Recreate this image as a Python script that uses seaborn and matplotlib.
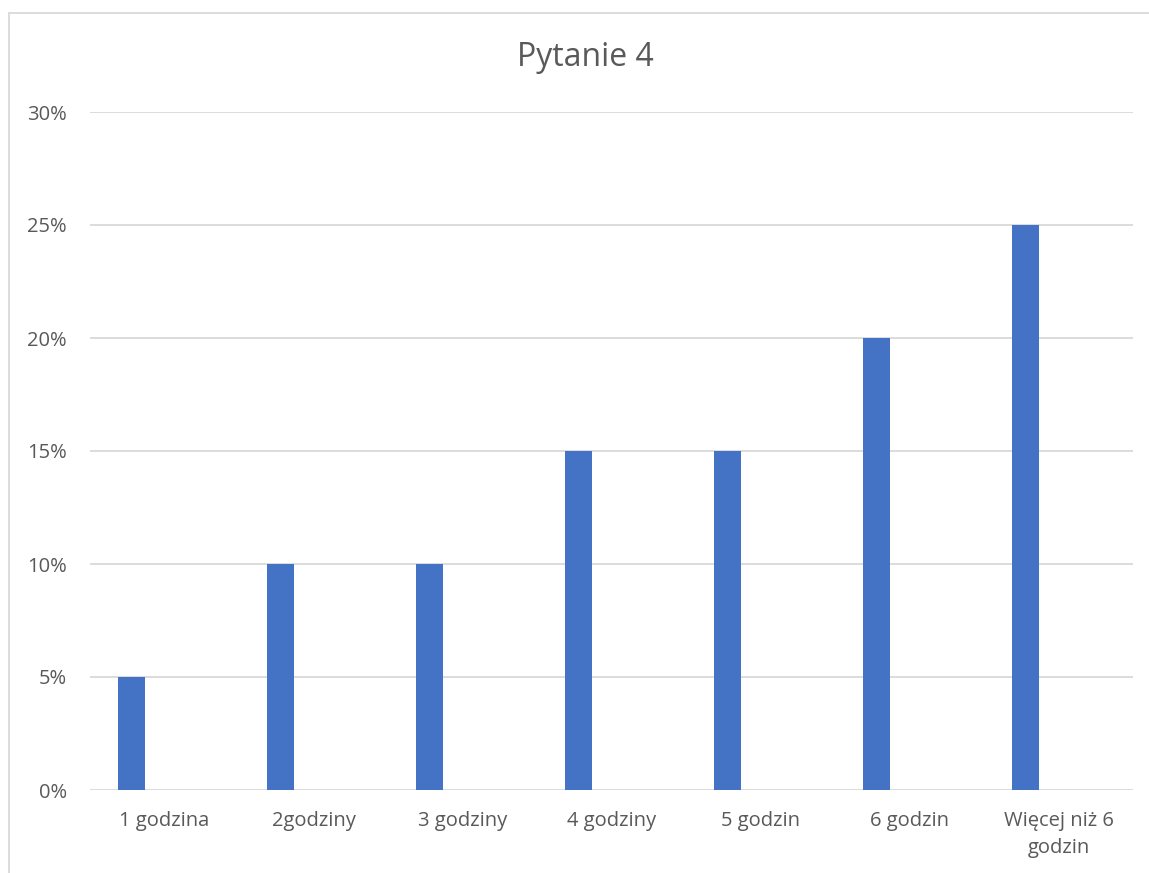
import matplotlib
matplotlib.use("Agg")
import matplotlib.pyplot as plt
import seaborn as sns
import pandas as pd
from matplotlib.patches import Rectangle
from matplotlib.ticker import FuncFormatter

# Dane
kategorie = ['1 godzina', '2godziny', '3 godziny', '4 godziny', '5 godzin', '6 godzin', 'Więcej niż 6\ngodzin']
wartosci = [5, 10, 10, 15, 15, 20, 25]
serie = ['Seria1', 'Seria2', 'Seria3']

data = pd.DataFrame({'Kategoria': kategorie, 'Wartosc': wartosci, 'Seria': 'Seria1'})
# puste serie, jak w wykresie z Excela
puste = pd.DataFrame({'Kategoria': kategorie * 2, 'Wartosc': [0] * 14,
                      'Seria': ['Seria2'] * 7 + ['Seria3'] * 7})
data = pd.concat([data, puste], ignore_index=True)

sns.set_style('white')
plt.rcParams['font.family'] = ['Open Sans', 'DejaVu Sans']

fig = plt.figure(figsize=(11.49, 8.73), dpi=100)
ax = fig.add_axes([90 / 1149, 1 - 790 / 873, (1133 - 90) / 1149, (790 - 112) / 873])

sns.barplot(data=data, x='Kategoria', y='Wartosc', hue='Seria', hue_order=serie,
            palette=['#4472C4', '#4472C4', '#4472C4'], width=0.663, gap=0.18,
            saturation=1, errorbar=None, legend=False, ax=ax, linewidth=0)

ax.set_ylim(0, 30)
ax.set_yticks(range(0, 31, 5))
ax.yaxis.set_major_formatter(FuncFormatter(lambda v, p: f'{int(v)}%'))
ax.set_xlim(-0.5, len(kategorie) - 0.5)
ax.grid(axis='y', color='#D9D9D9', linewidth=1.3)
ax.set_axisbelow(True)
for s in ax.spines.values():
    s.set_visible(False)
ax.set_xlabel('')
ax.set_ylabel('')
ax.tick_params(axis='both', length=0, labelsize=14.5, colors='#595959')
ax.tick_params(axis='y', pad=16.5)
ax.tick_params(axis='x', pad=15)
for t in ax.get_xticklabels():
    t.set_ha('center')
    t.set_multialignment('center')
    t.set_linespacing(1.45)

fig.text(585 / 1149, 1 - 58 / 873, 'Pytanie 4', ha='center', va='center',
         fontsize=23, color='#595959')

# ramka wykresu
fig.patches.append(Rectangle((9 / 1149, -0.1), 1.1, (873 - 13) / 873 + 0.1,
                             transform=fig.transFigure, fill=False,
                             edgecolor='#D9D9D9', linewidth=1.3))

fig.savefig('out.png', dpi=100)
